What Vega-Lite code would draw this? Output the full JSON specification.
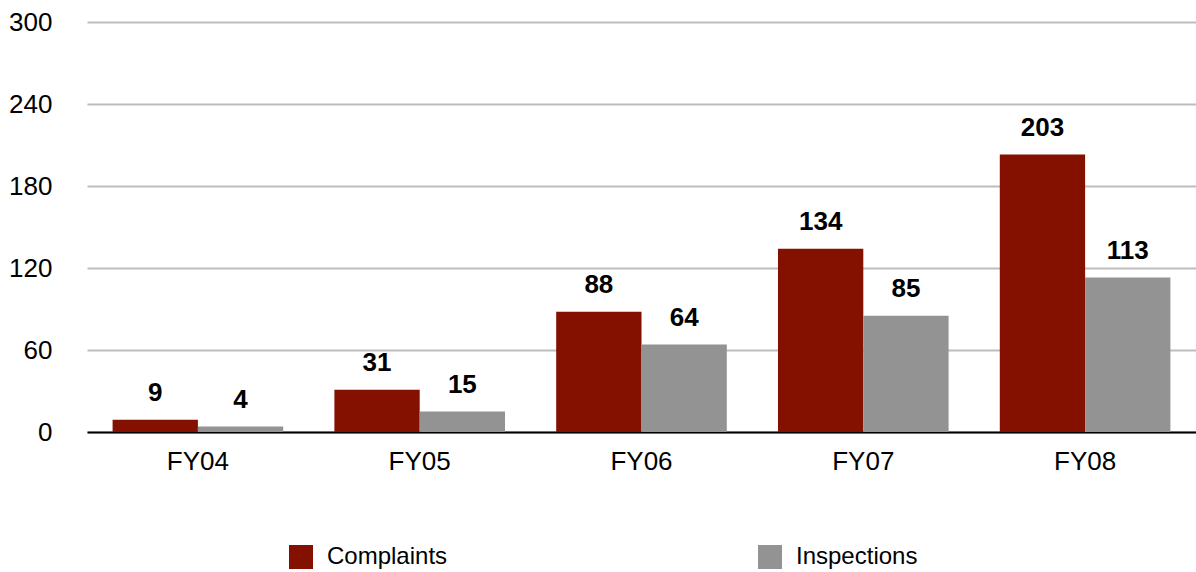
{
  "$schema": "https://vega.github.io/schema/vega-lite/v6.json",
  "width": 1109,
  "height": 410,
  "autosize": {"type": "none"},
  "padding": {"left": 87, "top": 22, "right": 0, "bottom": 140},
  "config": {
    "view": {"stroke": null},
    "font": "Liberation Sans",
    "axis": {"labelFont": "Liberation Sans", "labelColor": "#000000"}
  },
  "data": {
    "values": [
      {"year": "FY04", "series": "Complaints", "value": 9},
      {"year": "FY04", "series": "Inspections", "value": 4},
      {"year": "FY05", "series": "Complaints", "value": 31},
      {"year": "FY05", "series": "Inspections", "value": 15},
      {"year": "FY06", "series": "Complaints", "value": 88},
      {"year": "FY06", "series": "Inspections", "value": 64},
      {"year": "FY07", "series": "Complaints", "value": 134},
      {"year": "FY07", "series": "Inspections", "value": 85},
      {"year": "FY08", "series": "Complaints", "value": 203},
      {"year": "FY08", "series": "Inspections", "value": 113}
    ]
  },
  "encoding": {
    "x": {
      "field": "year", "type": "nominal",
      "scale": {"paddingInner": 0, "paddingOuter": 0},
      "axis": {
        "title": null, "labelAngle": 0, "labelFontSize": 26, "labelPadding": 16,
        "ticks": false, "domainColor": "#000000", "domainWidth": 2, "grid": false
      }
    },
    "xOffset": {"field": "series", "type": "nominal", "scale": {"paddingInner": 0, "paddingOuter": 0.3}},
    "y": {
      "field": "value", "type": "quantitative",
      "scale": {"domain": [0, 300]},
      "axis": {
        "title": null, "values": [0, 60, 120, 180, 240, 300], "labelFontSize": 26,
        "labelPadding": 35, "ticks": false, "domain": false,
        "gridColor": "#bdbdbd", "gridWidth": 2
      }
    }
  },
  "layer": [
    {
      "mark": {"type": "bar"},
      "encoding": {
        "color": {
          "field": "series", "type": "nominal",
          "scale": {"domain": ["Complaints", "Inspections"], "range": ["#841000", "#939393"]},
          "legend": {
            "title": null, "orient": "none", "direction": "horizontal",
            "legendX": 202, "legendY": 523,
            "symbolType": "square", "symbolSize": 576, "symbolStrokeWidth": 0,
            "labelFontSize": 24, "labelFont": "Liberation Sans", "labelColor": "#000000",
            "labelOffset": 14, "columnPadding": 310
          }
        }
      }
    },
    {
      "mark": {"type": "text", "fontSize": 26, "fontWeight": "bold", "baseline": "alphabetic", "dy": -19, "color": "#000000"},
      "encoding": {"text": {"field": "value", "type": "quantitative"}}
    }
  ]
}
